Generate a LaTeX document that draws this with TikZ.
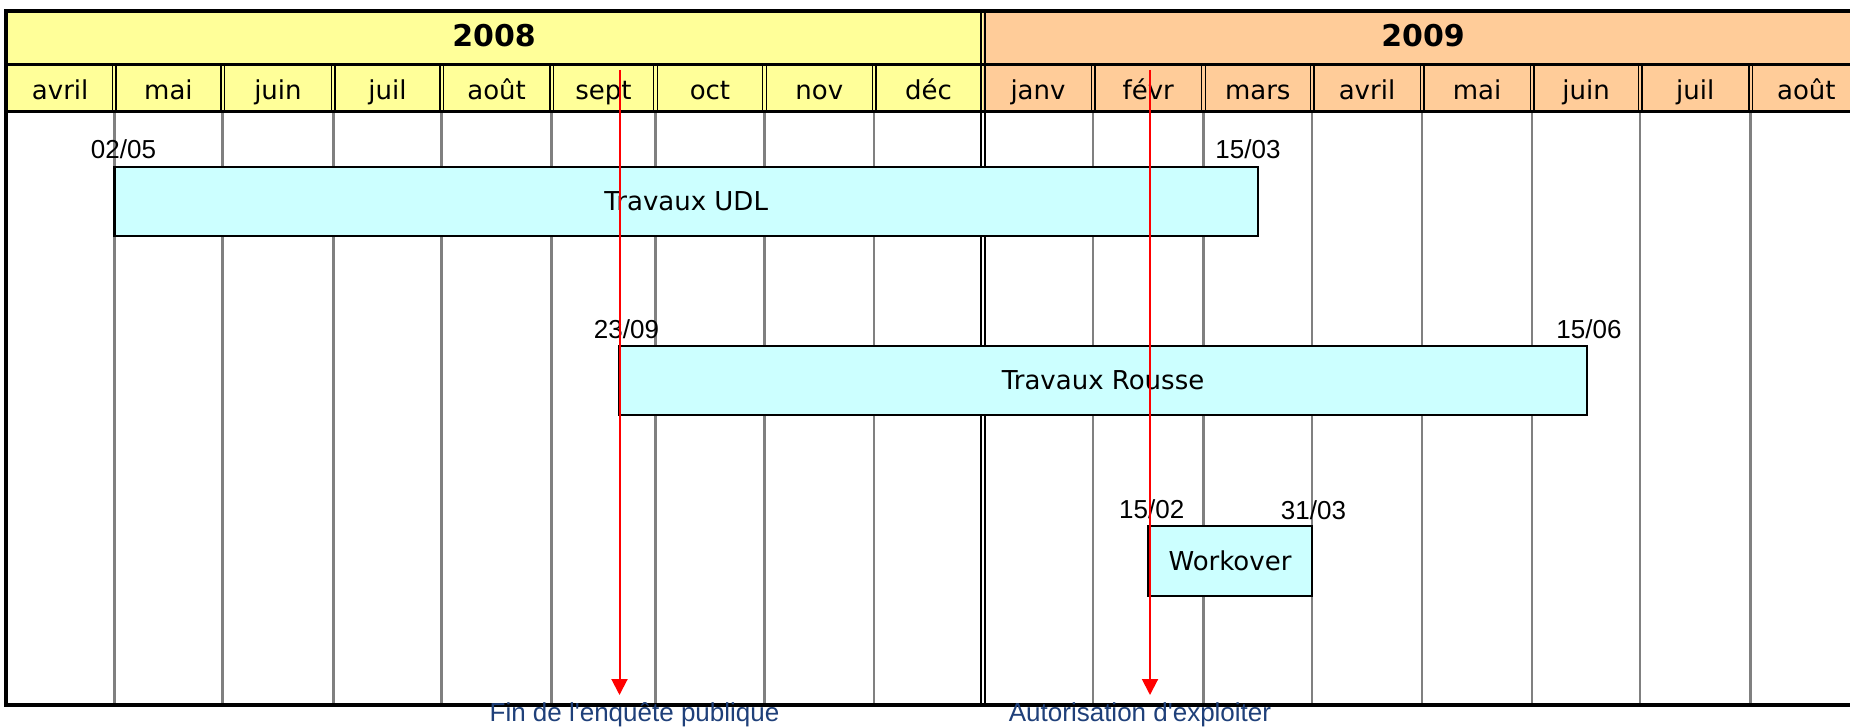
\documentclass[tikz,border=0pt]{standalone}
\usepackage{fontspec}
\setmainfont{DejaVu Sans}
\newfontfamily\arialf{Liberation Sans}
\usetikzlibrary{arrows.meta}
\definecolor{yel}{HTML}{FFFF99}
\definecolor{peach}{HTML}{FFCC99}
\definecolor{barcyan}{HTML}{CCFFFF}
\definecolor{gridgray}{HTML}{808080}
\definecolor{notecol}{HTML}{1F407A}
\begin{document}
\begin{tikzpicture}[x=1pt,y=-1pt,
  monthlbl/.style={font=\fontsize{26}{30}\selectfont, anchor=base, inner sep=0},
  yearlbl/.style={font=\bfseries\fontsize{30}{34}\selectfont, anchor=base, inner sep=0},
  datelbl/.style={font=\arialf\fontsize{26}{30}\selectfont, anchor=base, inner sep=0},
  notelbl/.style={font=\arialf\fontsize{26}{30}\selectfont, anchor=base, inner sep=0, text=notecol},
  bar/.style={draw=black, line width=2.6pt, fill=barcyan, inner sep=0, font=\fontsize{26}{30}\selectfont},
  gridline/.style={draw=gridgray, line width=2.6pt},
  hdrsep/.style={draw=black, line width=1.4pt},
  yearsep/.style={draw=black, line width=2.4pt},
  framebox/.style={draw=black, line width=3.5pt},
  rowline/.style={draw=black, line width=3pt},
  redarrow/.style={draw=red, line width=2pt, -{Triangle[length=16pt,width=16pt]}},
]
\useasboundingbox (0,0) rectangle (1850,727);
\clip (0,0) rectangle (1850,727);
\fill[white] (0,0) rectangle (1850,727);
% header fills
\fill[yel] (6,11) rectangle (983,112);
\fill[peach] (983,11) rectangle (1862,112);
% month separators and grid lines
\foreach \x in {114.3,222.6,333.3,441.7,551.6,655.4,764.5,874,1093,1203.5,1312,1422,1532,1640,1750.6} {
  \draw[hdrsep] (\x-1.8,65) -- (\x-1.8,112);
  \draw[hdrsep] (\x+1.8,65) -- (\x+1.8,112);
  \draw[gridline] (\x,112) -- (\x,705);
}
% year separator
\draw[yearsep] (980.8,11) -- (980.8,705);
\draw[yearsep] (984.8,11) -- (984.8,705);
% frame and row lines
\draw[framebox] (6,11) rectangle (1862,705);
\draw[rowline] (6,65) -- (1862,65);
\draw[rowline] (6,112) -- (1862,112);
% year labels
\node[yearlbl] (y2008) at (494,46.5) {2008};
\node[yearlbl] (y2009) at (1423,46.5) {2009};
% month labels
\foreach \xa/\xb/\nm [count=\i] in {6/114.3/avril, 114.3/222.6/mai, 222.6/333.3/juin, 333.3/441.7/juil, 441.7/551.6/août, 551.6/655.4/sept, 655.4/764.5/oct, 764.5/874/nov, 874/983/déc, 983/1093/janv, 1093/1203.5/févr, 1203.5/1312/mars, 1312/1422/avril, 1422/1532/mai, 1532/1640/juin, 1640/1750.6/juil, 1750.6/1862/août} {
  \node[monthlbl] (m\i) at ({(\xa+\xb)/2},99.5) {\nm};
}
% bars
\node[bar, minimum width=1143.7pt, minimum height=69pt] (udl) at (686.15,201.5) {Travaux UDL};
\node[bar, minimum width=968pt, minimum height=69pt] (rousse) at (1103,380.5) {Travaux Rousse};
\node[bar, minimum width=164pt, minimum height=70pt] (work) at (1230,561) {Workover};
% dates
\node[datelbl] (d1) at (123.5,159) {02/05};
\node[datelbl] (d2) at (1248,159) {15/03};
\node[datelbl] (d3) at (626.5,338) {23/09};
\node[datelbl] (d4) at (1589,338) {15/06};
\node[datelbl] (d5) at (1151.7,518) {15/02};
\node[datelbl] (d6) at (1313.5,519) {31/03};
% red arrows
\coordinate (a1s) at (619.5,70);
\coordinate (a1e) at (619.5,695);
\coordinate (a2s) at (1150,70);
\coordinate (a2e) at (1150,695);
\draw[redarrow] (a1s) -- (a1e);
\draw[redarrow] (a2s) -- (a2e);
% notes
\node[notelbl] (n1) at (634.5,721) {Fin de l'enquête publique};
\node[notelbl] (n2) at (1140,721) {Autorisation d'exploiter};
\end{tikzpicture}
\end{document}
